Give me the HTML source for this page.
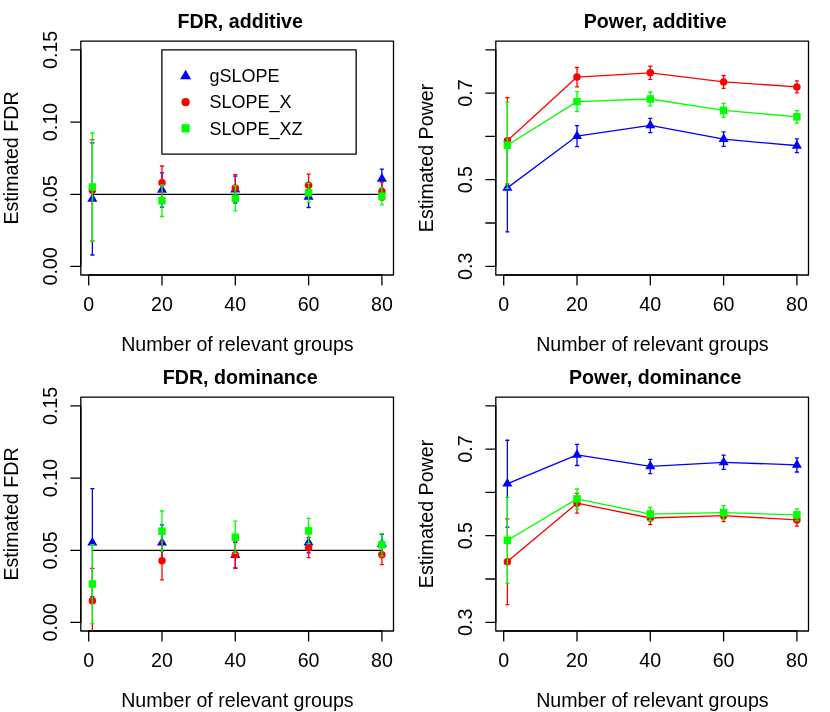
<!DOCTYPE html>
<html><head><meta charset="utf-8"><title>FDR and Power</title>
<style>
html,body{margin:0;padding:0;background:#fff;}
svg{display:block;will-change:transform;font-family:"Liberation Sans",sans-serif;}
</style></head>
<body>
<svg width="830" height="712" viewBox="0 0 830 712">
<rect width="830" height="712" fill="#fff"/>
<g transform="translate(0,0)">
<clipPath id="c1"><rect x="80.8" y="41.1" width="312.7" height="233.9"/></clipPath>
<g stroke="#000" stroke-width="1.3" fill="none" stroke-linecap="round" stroke-linejoin="round">
<rect x="80.8" y="41.1" width="312.7" height="233.9"/>
<path d="M88.7,275.0H381.9M88.7,275.0v9.96M162,275.0v9.96M235.3,275.0v9.96M308.6,275.0v9.96M381.9,275.0v9.96"/>
<path d="M80.8,266.4V49.9M80.8,266.4h-9.96M80.8,194.4h-9.96M80.8,122.1h-9.96M80.8,49.9h-9.96"/>
</g>
<g font-size="19.65" fill="#000" text-anchor="middle">
<text transform="translate(88.7,311.0) scale(1,1.03)">0</text>
<text transform="translate(162,311.0) scale(1,1.03)">20</text>
<text transform="translate(235.3,311.0) scale(1,1.03)">40</text>
<text transform="translate(308.6,311.0) scale(1,1.03)">60</text>
<text transform="translate(381.9,311.0) scale(1,1.03)">80</text>
<text transform="translate(57.0,266.4) rotate(-90) scale(1,1.03)">0.00</text>
<text transform="translate(57.0,194.4) rotate(-90) scale(1,1.03)">0.05</text>
<text transform="translate(57.0,122.1) rotate(-90) scale(1,1.03)">0.10</text>
<text transform="translate(57.0,49.9) rotate(-90) scale(1,1.03)">0.15</text>
<text transform="translate(237.4,350.6) scale(1,1.03)">Number of relevant groups</text>
<text transform="translate(17.8,158.0) rotate(-90) scale(1,1.03)">Estimated FDR</text>
<text transform="translate(240.2,27.6) scale(1,1.045)" font-weight="bold">FDR, additive</text>
</g>
<g clip-path="url(#c1)" stroke-width="1.3" fill="none" stroke-linecap="round" stroke-linejoin="round">
<path d="M92.37,194.45H381.9" stroke="#000"/>
<polygon points="92.37,193.09 97.4,201.8 87.33,201.8" fill="#0000ff"/>
<polygon points="162,184.14 167.03,192.85 156.97,192.85" fill="#0000ff"/>
<polygon points="235.3,183.69 240.33,192.4 230.27,192.4" fill="#0000ff"/>
<polygon points="308.6,190.99 313.63,199.7 303.57,199.7" fill="#0000ff"/>
<polygon points="381.9,172.99 386.93,181.7 376.87,181.7" fill="#0000ff"/>
<path d="M92.37,142.9V255M90.77,142.9h3.2M90.77,255h3.2M162,172.8V207.1M160.4,172.8h3.2M160.4,207.1h3.2M235.3,176.1V203M233.7,176.1h3.2M233.7,203h3.2M308.6,186.1V207.5M307,186.1h3.2M307,207.5h3.2M381.9,169.1V188.5M380.3,169.1h3.2M380.3,188.5h3.2" stroke="#0000ff"/>
<circle cx="92.37" cy="190.3" r="3.74" fill="#ff0000"/>
<circle cx="162" cy="182.8" r="3.74" fill="#ff0000"/>
<circle cx="235.3" cy="188" r="3.74" fill="#ff0000"/>
<circle cx="308.6" cy="185.3" r="3.74" fill="#ff0000"/>
<circle cx="381.9" cy="191.5" r="3.74" fill="#ff0000"/>
<path d="M92.37,139.7V240.9M90.77,139.7h3.2M90.77,240.9h3.2M162,166V199.6M160.4,166h3.2M160.4,199.6h3.2M235.3,174.7V201.3M233.7,174.7h3.2M233.7,201.3h3.2M308.6,174.2V196.4M307,174.2h3.2M307,196.4h3.2M381.9,182.2V200.1M380.3,182.2h3.2M380.3,200.1h3.2" stroke="#ff0000"/>
<rect x="88.63" y="183.26" width="7.47" height="7.47" fill="#00ff00"/>
<rect x="158.26" y="196.91" width="7.47" height="7.47" fill="#00ff00"/>
<rect x="231.56" y="194.56" width="7.47" height="7.47" fill="#00ff00"/>
<rect x="304.87" y="189.01" width="7.47" height="7.47" fill="#00ff00"/>
<rect x="378.16" y="192.46" width="7.47" height="7.47" fill="#00ff00"/>
<path d="M92.37,133V240.9M90.77,133h3.2M90.77,240.9h3.2M162,184.8V216.5M160.4,184.8h3.2M160.4,216.5h3.2M235.3,185.7V210.9M233.7,185.7h3.2M233.7,210.9h3.2M308.6,183.3V202.2M307,183.3h3.2M307,202.2h3.2M381.9,187.6V204.8M380.3,187.6h3.2M380.3,204.8h3.2" stroke="#00ff00"/>
</g>
<rect x="161.9" y="49.85" width="194.25" height="104.2" fill="#fff" stroke="#000" stroke-width="1.3" stroke-linejoin="round"/>
<polygon points="185.6,69.71 191.14,79.3 180.06,79.3" fill="#0000ff"/>
<text transform="translate(209.6,82.3) scale(1,1.03)" font-size="18.0">gSLOPE</text>
<circle cx="185.6" cy="102.2" r="4.11" fill="#ff0000"/>
<text transform="translate(209.6,108.4) scale(1,1.03)" font-size="18.0">SLOPE_X</text>
<rect x="181.49" y="124.19" width="8.22" height="8.22" fill="#00ff00"/>
<text transform="translate(209.6,134.5) scale(1,1.03)" font-size="18.0">SLOPE_XZ</text>
</g>
<g transform="translate(415,0)">
<clipPath id="c2"><rect x="80.8" y="41.1" width="312.7" height="233.9"/></clipPath>
<g stroke="#000" stroke-width="1.3" fill="none" stroke-linecap="round" stroke-linejoin="round">
<rect x="80.8" y="41.1" width="312.7" height="233.9"/>
<path d="M88.7,275.0H381.9M88.7,275.0v9.96M162,275.0v9.96M235.3,275.0v9.96M308.6,275.0v9.96M381.9,275.0v9.96"/>
<path d="M80.8,266.35V49.8M80.8,266.35h-9.96M80.8,223h-9.96M80.8,179.7h-9.96M80.8,136.4h-9.96M80.8,93.1h-9.96M80.8,49.8h-9.96"/>
</g>
<g font-size="19.65" fill="#000" text-anchor="middle">
<text transform="translate(88.7,311.0) scale(1,1.03)">0</text>
<text transform="translate(162,311.0) scale(1,1.03)">20</text>
<text transform="translate(235.3,311.0) scale(1,1.03)">40</text>
<text transform="translate(308.6,311.0) scale(1,1.03)">60</text>
<text transform="translate(381.9,311.0) scale(1,1.03)">80</text>
<text transform="translate(57.0,266.35) rotate(-90) scale(1,1.03)">0.3</text>
<text transform="translate(57.0,179.7) rotate(-90) scale(1,1.03)">0.5</text>
<text transform="translate(57.0,93.1) rotate(-90) scale(1,1.03)">0.7</text>
<text transform="translate(237.4,350.6) scale(1,1.03)">Number of relevant groups</text>
<text transform="translate(17.8,158.0) rotate(-90) scale(1,1.03)">Estimated Power</text>
<text transform="translate(240.2,27.6) scale(1,1.045)" font-weight="bold">Power, additive</text>
</g>
<g clip-path="url(#c2)" stroke-width="1.3" fill="none" stroke-linecap="round" stroke-linejoin="round">
<polyline points="92.37,187.9 162,136.1 235.3,125.45 308.6,139.15 381.9,145.75" stroke="#0000ff"/>
<polygon points="92.37,182.09 97.4,190.8 87.33,190.8" fill="#0000ff"/>
<polygon points="162,130.29 167.03,139 156.97,139" fill="#0000ff"/>
<polygon points="235.3,119.64 240.33,128.35 230.27,128.35" fill="#0000ff"/>
<polygon points="308.6,133.34 313.63,142.05 303.57,142.05" fill="#0000ff"/>
<polygon points="381.9,139.94 386.93,148.65 376.87,148.65" fill="#0000ff"/>
<path d="M92.37,143.9V231.9M90.77,143.9h3.2M90.77,231.9h3.2M162,125.7V146.55M160.4,125.7h3.2M160.4,146.55h3.2M235.3,118.3V132.65M233.7,118.3h3.2M233.7,132.65h3.2M308.6,131.9V146.4M307,131.9h3.2M307,146.4h3.2M381.9,138.8V152.7M380.3,138.8h3.2M380.3,152.7h3.2" stroke="#0000ff"/>
<polyline points="92.37,140.7 162,77.1 235.3,72.8 308.6,81.9 381.9,86.9" stroke="#ff0000"/>
<circle cx="92.37" cy="140.7" r="3.74" fill="#ff0000"/>
<circle cx="162" cy="77.1" r="3.74" fill="#ff0000"/>
<circle cx="235.3" cy="72.8" r="3.74" fill="#ff0000"/>
<circle cx="308.6" cy="81.9" r="3.74" fill="#ff0000"/>
<circle cx="381.9" cy="86.9" r="3.74" fill="#ff0000"/>
<path d="M92.37,97.7V183.8M90.77,97.7h3.2M90.77,183.8h3.2M162,67.5V86.8M160.4,67.5h3.2M160.4,86.8h3.2M235.3,66.2V79.35M233.7,66.2h3.2M233.7,79.35h3.2M308.6,75.5V88.3M307,75.5h3.2M307,88.3h3.2M381.9,80.9V92.8M380.3,80.9h3.2M380.3,92.8h3.2" stroke="#ff0000"/>
<polyline points="92.37,145.2 162,101.6 235.3,99 308.6,110.4 381.9,116.8" stroke="#00ff00"/>
<rect x="88.63" y="141.46" width="7.47" height="7.47" fill="#00ff00"/>
<rect x="158.26" y="97.86" width="7.47" height="7.47" fill="#00ff00"/>
<rect x="231.56" y="95.27" width="7.47" height="7.47" fill="#00ff00"/>
<rect x="304.87" y="106.67" width="7.47" height="7.47" fill="#00ff00"/>
<rect x="378.16" y="113.06" width="7.47" height="7.47" fill="#00ff00"/>
<path d="M92.37,102.1V188.3M90.77,102.1h3.2M90.77,188.3h3.2M162,91.7V111.5M160.4,91.7h3.2M160.4,111.5h3.2M235.3,92V105.9M233.7,92h3.2M233.7,105.9h3.2M308.6,103.45V117.35M307,103.45h3.2M307,117.35h3.2M381.9,110.55V123.1M380.3,110.55h3.2M380.3,123.1h3.2" stroke="#00ff00"/>
</g>
</g>
<g transform="translate(0,356)">
<clipPath id="c3"><rect x="80.8" y="41.1" width="312.7" height="233.9"/></clipPath>
<g stroke="#000" stroke-width="1.3" fill="none" stroke-linecap="round" stroke-linejoin="round">
<rect x="80.8" y="41.1" width="312.7" height="233.9"/>
<path d="M88.7,275.0H381.9M88.7,275.0v9.96M162,275.0v9.96M235.3,275.0v9.96M308.6,275.0v9.96M381.9,275.0v9.96"/>
<path d="M80.8,266.4V49.9M80.8,266.4h-9.96M80.8,194.4h-9.96M80.8,122.1h-9.96M80.8,49.9h-9.96"/>
</g>
<g font-size="19.65" fill="#000" text-anchor="middle">
<text transform="translate(88.7,311.0) scale(1,1.03)">0</text>
<text transform="translate(162,311.0) scale(1,1.03)">20</text>
<text transform="translate(235.3,311.0) scale(1,1.03)">40</text>
<text transform="translate(308.6,311.0) scale(1,1.03)">60</text>
<text transform="translate(381.9,311.0) scale(1,1.03)">80</text>
<text transform="translate(57.0,266.4) rotate(-90) scale(1,1.03)">0.00</text>
<text transform="translate(57.0,194.4) rotate(-90) scale(1,1.03)">0.05</text>
<text transform="translate(57.0,122.1) rotate(-90) scale(1,1.03)">0.10</text>
<text transform="translate(57.0,49.9) rotate(-90) scale(1,1.03)">0.15</text>
<text transform="translate(237.4,350.6) scale(1,1.03)">Number of relevant groups</text>
<text transform="translate(17.8,158.0) rotate(-90) scale(1,1.03)">Estimated FDR</text>
<text transform="translate(240.2,27.6) scale(1,1.045)" font-weight="bold">FDR, dominance</text>
</g>
<g clip-path="url(#c3)" stroke-width="1.3" fill="none" stroke-linecap="round" stroke-linejoin="round">
<path d="M92.37,194.45H381.9" stroke="#000"/>
<polygon points="92.37,180.89 97.4,189.6 87.33,189.6" fill="#0000ff"/>
<polygon points="162,180.89 167.03,189.6 156.97,189.6" fill="#0000ff"/>
<polygon points="235.3,193.39 240.33,202.1 230.27,202.1" fill="#0000ff"/>
<polygon points="308.6,180.69 313.63,189.4 303.57,189.4" fill="#0000ff"/>
<polygon points="381.9,182.29 386.93,191 376.87,191" fill="#0000ff"/>
<path d="M92.37,132.6V240.7M90.77,132.6h3.2M90.77,240.7h3.2M162,168.9V204.5M160.4,168.9h3.2M160.4,204.5h3.2M235.3,186.6V211.9M233.7,186.6h3.2M233.7,211.9h3.2M308.6,176.2V196.8M307,176.2h3.2M307,196.8h3.2M381.9,178.3V197.9M380.3,178.3h3.2M380.3,197.9h3.2" stroke="#0000ff"/>
<circle cx="92.37" cy="244.8" r="3.74" fill="#ff0000"/>
<circle cx="162" cy="204.8" r="3.74" fill="#ff0000"/>
<circle cx="235.3" cy="198.8" r="3.74" fill="#ff0000"/>
<circle cx="308.6" cy="191.7" r="3.74" fill="#ff0000"/>
<circle cx="381.9" cy="198.8" r="3.74" fill="#ff0000"/>
<path d="M92.37,212.4V277.3M90.77,212.4h3.2M90.77,277.3h3.2M162,185.8V223.8M160.4,185.8h3.2M160.4,223.8h3.2M235.3,185.2V212.4M233.7,185.2h3.2M233.7,212.4h3.2M308.6,181.5V201.6M307,181.5h3.2M307,201.6h3.2M381.9,189V208.6M380.3,189h3.2M380.3,208.6h3.2" stroke="#ff0000"/>
<rect x="88.63" y="224.26" width="7.47" height="7.47" fill="#00ff00"/>
<rect x="158.26" y="171.47" width="7.47" height="7.47" fill="#00ff00"/>
<rect x="231.56" y="177.47" width="7.47" height="7.47" fill="#00ff00"/>
<rect x="304.87" y="171.16" width="7.47" height="7.47" fill="#00ff00"/>
<rect x="378.16" y="185.06" width="7.47" height="7.47" fill="#00ff00"/>
<path d="M92.37,188.6V267.7M90.77,188.6h3.2M90.77,267.7h3.2M162,155V195.4M160.4,155h3.2M160.4,195.4h3.2M235.3,165.1V197.4M233.7,165.1h3.2M233.7,197.4h3.2M308.6,162.3V187.5M307,162.3h3.2M307,187.5h3.2M381.9,177.7V200.1M380.3,177.7h3.2M380.3,200.1h3.2" stroke="#00ff00"/>
</g>
</g>
<g transform="translate(415,356)">
<clipPath id="c4"><rect x="80.8" y="41.1" width="312.7" height="233.9"/></clipPath>
<g stroke="#000" stroke-width="1.3" fill="none" stroke-linecap="round" stroke-linejoin="round">
<rect x="80.8" y="41.1" width="312.7" height="233.9"/>
<path d="M88.7,275.0H381.9M88.7,275.0v9.96M162,275.0v9.96M235.3,275.0v9.96M308.6,275.0v9.96M381.9,275.0v9.96"/>
<path d="M80.8,266.35V49.8M80.8,266.35h-9.96M80.8,223h-9.96M80.8,179.7h-9.96M80.8,136.4h-9.96M80.8,93.1h-9.96M80.8,49.8h-9.96"/>
</g>
<g font-size="19.65" fill="#000" text-anchor="middle">
<text transform="translate(88.7,311.0) scale(1,1.03)">0</text>
<text transform="translate(162,311.0) scale(1,1.03)">20</text>
<text transform="translate(235.3,311.0) scale(1,1.03)">40</text>
<text transform="translate(308.6,311.0) scale(1,1.03)">60</text>
<text transform="translate(381.9,311.0) scale(1,1.03)">80</text>
<text transform="translate(57.0,266.35) rotate(-90) scale(1,1.03)">0.3</text>
<text transform="translate(57.0,179.7) rotate(-90) scale(1,1.03)">0.5</text>
<text transform="translate(57.0,93.1) rotate(-90) scale(1,1.03)">0.7</text>
<text transform="translate(237.4,350.6) scale(1,1.03)">Number of relevant groups</text>
<text transform="translate(17.8,158.0) rotate(-90) scale(1,1.03)">Estimated Power</text>
<text transform="translate(240.2,27.6) scale(1,1.045)" font-weight="bold">Power, dominance</text>
</g>
<g clip-path="url(#c4)" stroke-width="1.3" fill="none" stroke-linecap="round" stroke-linejoin="round">
<polyline points="92.37,127.7 162,98.95 235.3,110.4 308.6,106.3 381.9,108.9" stroke="#0000ff"/>
<polygon points="92.37,121.89 97.4,130.6 87.33,130.6" fill="#0000ff"/>
<polygon points="162,93.14 167.03,101.85 156.97,101.85" fill="#0000ff"/>
<polygon points="235.3,104.59 240.33,113.3 230.27,113.3" fill="#0000ff"/>
<polygon points="308.6,100.49 313.63,109.2 303.57,109.2" fill="#0000ff"/>
<polygon points="381.9,103.09 386.93,111.8 376.87,111.8" fill="#0000ff"/>
<path d="M92.37,84.25V171.1M90.77,84.25h3.2M90.77,171.1h3.2M162,88.4V109.5M160.4,88.4h3.2M160.4,109.5h3.2M235.3,103.35V117.55M233.7,103.35h3.2M233.7,117.55h3.2M308.6,99.2V113.4M307,99.2h3.2M307,113.4h3.2M381.9,101.8V116M380.3,101.8h3.2M380.3,116h3.2" stroke="#0000ff"/>
<polyline points="92.37,205.75 162,147.2 235.3,162 308.6,159.7 381.9,163.9" stroke="#ff0000"/>
<circle cx="92.37" cy="205.75" r="3.74" fill="#ff0000"/>
<circle cx="162" cy="147.2" r="3.74" fill="#ff0000"/>
<circle cx="235.3" cy="162" r="3.74" fill="#ff0000"/>
<circle cx="308.6" cy="159.7" r="3.74" fill="#ff0000"/>
<circle cx="381.9" cy="163.9" r="3.74" fill="#ff0000"/>
<path d="M92.37,162.9V248.55M90.77,162.9h3.2M90.77,248.55h3.2M162,137.3V157.1M160.4,137.3h3.2M160.4,157.1h3.2M235.3,155.35V168.65M233.7,155.35h3.2M233.7,168.65h3.2M308.6,153.8V165.6M307,153.8h3.2M307,165.6h3.2M381.9,157.7V170.1M380.3,157.7h3.2M380.3,170.1h3.2" stroke="#ff0000"/>
<polyline points="92.37,184.3 162,142.9 235.3,158.05 308.6,156.65 381.9,158.8" stroke="#00ff00"/>
<rect x="88.63" y="180.56" width="7.47" height="7.47" fill="#00ff00"/>
<rect x="158.26" y="139.16" width="7.47" height="7.47" fill="#00ff00"/>
<rect x="231.56" y="154.31" width="7.47" height="7.47" fill="#00ff00"/>
<rect x="304.87" y="152.91" width="7.47" height="7.47" fill="#00ff00"/>
<rect x="378.16" y="155.06" width="7.47" height="7.47" fill="#00ff00"/>
<path d="M92.37,141.4V227.2M90.77,141.4h3.2M90.77,227.2h3.2M162,133V152.8M160.4,133h3.2M160.4,152.8h3.2M235.3,151.4V164.7M233.7,151.4h3.2M233.7,164.7h3.2M308.6,149.7V163.6M307,149.7h3.2M307,163.6h3.2M381.9,152.8V164.8M380.3,152.8h3.2M380.3,164.8h3.2" stroke="#00ff00"/>
</g>
</g>
</svg>
</body></html>
